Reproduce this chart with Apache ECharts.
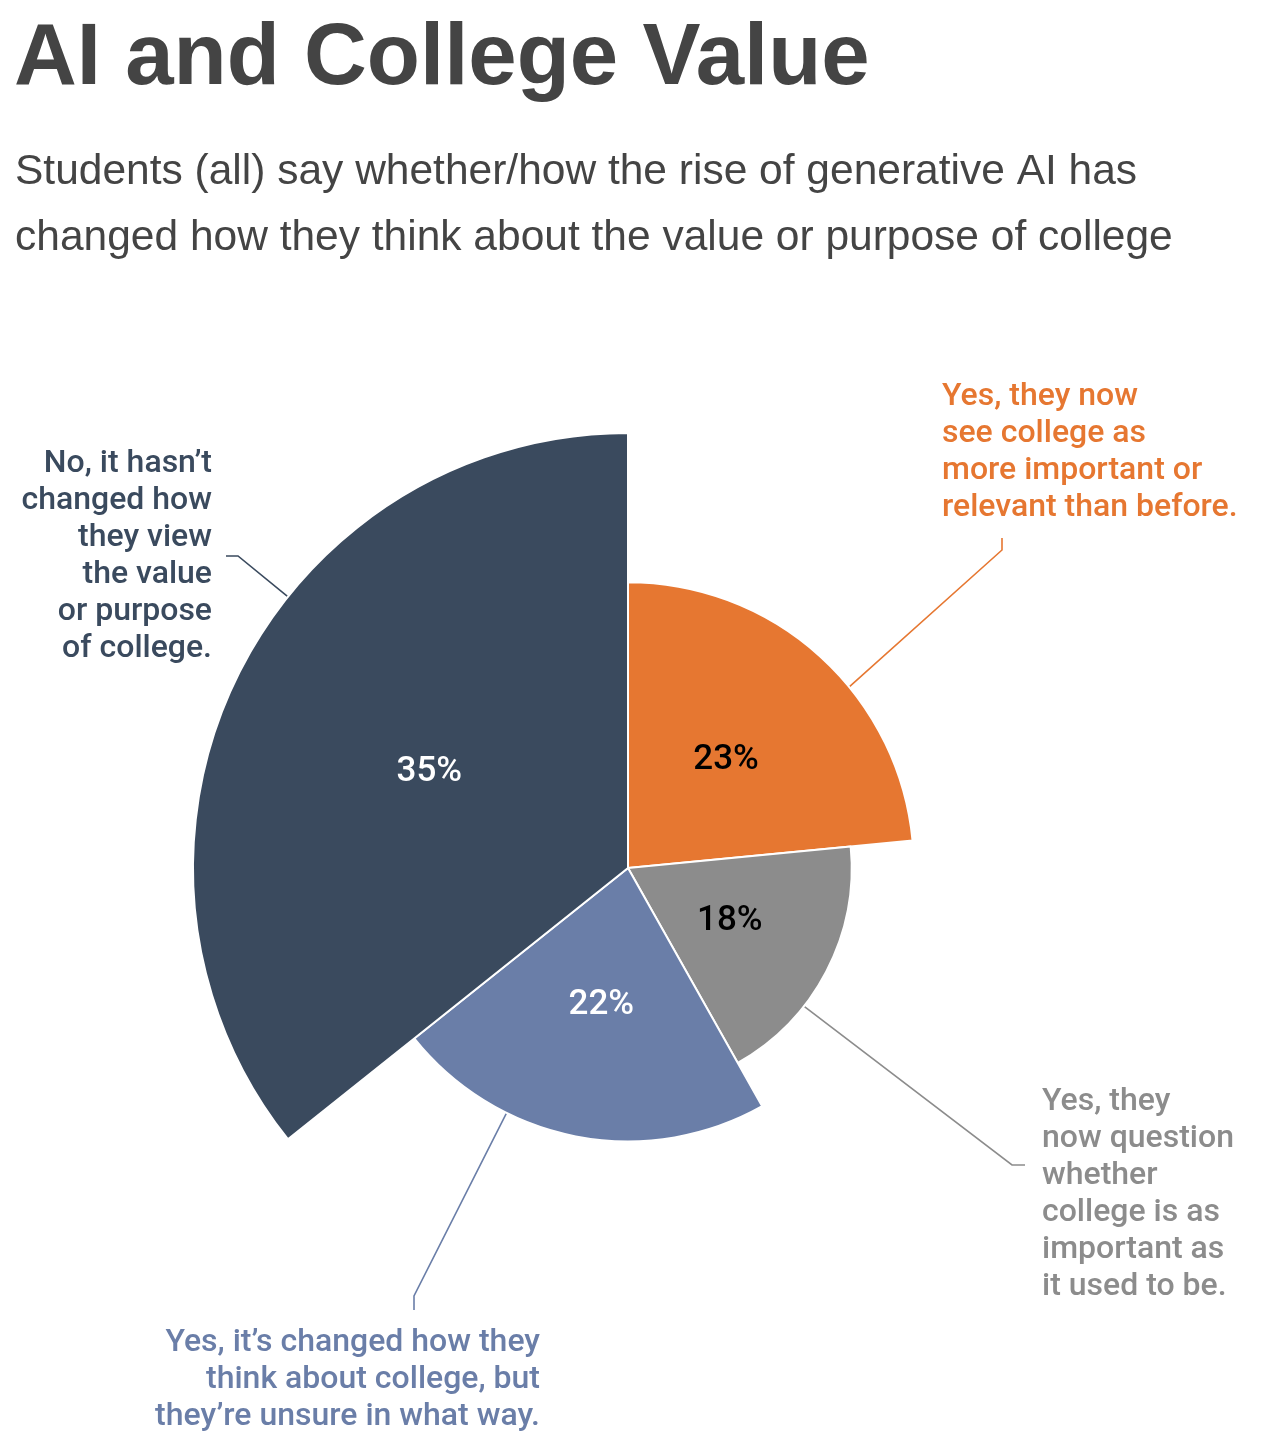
<!DOCTYPE html>
<html>
<head>
<meta charset="utf-8">
<script src="https://cdn.jsdelivr.net/npm/echarts@6/dist/echarts.min.js"></script>
<style>
html,body{margin:0;padding:0;background:#fff;}
#chart{width:1262px;height:1447px;}
</style>
</head>
<body>
<div id="chart"></div>
<script>
// ---- data ----
const categories = [
  'Yes, they now\nsee college as\nmore important or\nrelevant than before.',
  'Yes, they\nnow question\nwhether\ncollege is as\nimportant as\nit used to be.',
  'Yes, it\u2019s changed how they\nthink about college, but\nthey\u2019re unsure in what way.',
  'No, it hasn\u2019t\nchanged how\nthey view\nthe value\nor purpose\nof college.'
];
const values = [23, 18, 22, 35];
const colors = ['#e67731', '#8c8c8c', '#6a7ea8', '#3a4a5e'];
const pctLabelColors = ['#000000', '#000000', '#ffffff', '#ffffff'];

const titleText = 'AI and College Value';
const subtitleText = 'Students (all) say whether/how the rise of generative AI has\nchanged how they think about the value or purpose of college';

// ---- layout ----
const CX = 628, CY = 868, R = 435;
// where each outside label sits and how its leader bends
const labelPlacement = [
  { x: 942,  y: 452,  align: 'left',  anchorFrac: 0.60, bend: [1002, 550], end: [1002, 538] },
  { x: 1042, y: 1194, align: 'left',  anchorFrac: 0.66, bend: [1012, 1165], end: [1025, 1165] },
  { x: 540,  y: 1380, align: 'right', anchorFrac: 0.69, bend: [414, 1296], end: [414, 1310] },
  { x: 212,  y: 556,  align: 'right', anchorFrac: 0.60, bend: [238, 556], end: [226, 556] }
];

const total = values.reduce((a, b) => a + b, 0);
const maxVal = Math.max.apply(null, values);
function edgePoint(i, frac) {
  let start = 0;
  for (let k = 0; k < i; k++) start += values[k] / total * 360;
  const span = values[i] / total * 360;
  const a = (start + span * frac) * Math.PI / 180;
  const r = values[i] / maxVal * R - 1;
  return [CX + r * Math.sin(a), CY - r * Math.cos(a)];
}

// zero-valued anchor so the rose radius scale starts at 0
const mainData = values.map((v, i) => ({
  value: v, name: categories[i],
  itemStyle: { color: colors[i] },
  label: { color: pctLabelColors[i] }
})).concat([{ value: 0, name: '', label: { show: false }, labelLine: { show: false }, itemStyle: { color: 'transparent', borderWidth: 0 } }]);

const outerData = values.map((v, i) => ({
  value: v, name: categories[i],
  itemStyle: { color: 'transparent', borderWidth: 0 },
  label: { color: colors[i] },
  labelLine: { lineStyle: { color: colors[i] } }
})).concat([{ value: 0, name: '', label: { show: false }, labelLine: { show: false }, itemStyle: { color: 'transparent', borderWidth: 0 } }]);

const chart = echarts.init(document.getElementById('chart'), null, { renderer: 'canvas' });
chart.setOption({
  backgroundColor: '#ffffff',
  animation: false,
  title: [
    {
      text: titleText, left: 9, top: 12,
      textStyle: { fontFamily: 'Liberation Sans, Arial, sans-serif', fontWeight: 'bold', fontSize: 87, color: '#444444', lineHeight: 87 }
    },
    {
      text: subtitleText, left: 10, top: 134,
      textStyle: { fontFamily: 'Liberation Sans, Arial, sans-serif', fontWeight: 'normal', fontSize: 42.5, color: '#444444', lineHeight: 66 }
    }
  ],
  series: [
    {
      type: 'pie',
      roseType: 'radius',
      center: [CX, CY],
      radius: [0, R],
      startAngle: 90,
      clockwise: true,
      avoidLabelOverlap: false,
      silent: true,
      z: 2,
      itemStyle: { borderColor: '#ffffff', borderWidth: 2 },
      label: {
        show: true, position: 'inside',
        formatter: p => p.value + '%',
        fontFamily: 'Roboto, sans-serif', fontSize: 35, fontWeight: 500
      },
      labelLine: { show: false },
      data: mainData
    },
    {
      type: 'pie',
      roseType: 'radius',
      center: [CX, CY],
      radius: [0, R],
      startAngle: 90,
      clockwise: true,
      avoidLabelOverlap: false,
      silent: true,
      z: 1,
      label: {
        show: true, position: 'outside',
        formatter: p => p.name,
        fontFamily: 'Roboto, sans-serif', fontSize: 32, fontWeight: 500, lineHeight: 37
      },
      labelLine: { show: true, length: 20, length2: 20, lineStyle: { width: 1.6 } },
      labelLayout: function (params) {
        const i = params.dataIndex;
        const pl = labelPlacement[i];
        if (!pl) return {};
        return {
          x: pl.x, y: pl.y, align: pl.align, verticalAlign: 'middle',
          labelLinePoints: [edgePoint(i, pl.anchorFrac), pl.bend.slice(), pl.end.slice()]
        };
      },
      data: outerData
    }
  ]
});
</script>
</body>
</html>
